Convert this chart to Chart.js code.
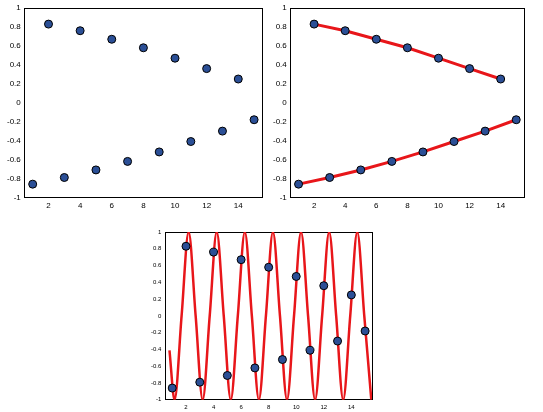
<!DOCTYPE html><html><head><script src="https://cdn.jsdelivr.net/npm/chart.js@4"></script>
<style>body{margin:0;background:#fff;width:543px;height:412px;position:relative}div{position:absolute}</style></head><body>
<div style="left:6px;top:0px;width:264px;height:212px"><canvas id="c1"></canvas></div>
<div style="left:272px;top:0px;width:260px;height:212px"><canvas id="c2"></canvas></div>
<div style="left:150px;top:224px;width:230px;height:188px"><canvas id="c3"></canvas></div>
<script>
const oddX=[1,3,5,7,9,11,13,15];
const oddY=[-0.86,-0.79,-0.71,-0.62,-0.52,-0.41,-0.30,-0.18];
const evenX=[2,4,6,8,10,12,14];
const evenY=[0.83,0.76,0.67,0.58,0.47,0.36,0.25];
// extrema / zero crossings of the fast sinusoid
const waveX=[0.8,1.17,1.68,2.19,2.70,3.21,3.72,4.23,4.74,5.25,5.76,6.27,6.78,7.29,7.80,8.31,8.82,9.33,9.84,10.35,10.86,11.37,11.88,12.39,12.90,13.41,13.92,14.43,14.94,15.45];
const waveY=[-0.41,-1,0,1,0,-1,0,1,0,-1,0,1,0,-1,0,1,0,-1,0,1,0,-1,0,1,0,-1,0,1,0,-1];
const xt=[2,4,6,8,10,12,14];
const pts=(xs,ys)=>xs.map((x,i)=>({x,y:ys[i]}));
const allPts=pts(oddX.concat(evenX),oddY.concat(evenY));
const ptStyle={type:'scatter',pointRadius:4,pointBackgroundColor:'#2b4f96',pointBorderColor:'#000',pointBorderWidth:1,showLine:false};
function scales(fs){return{
 x:{type:'linear',min:0.5,max:15.5,grid:{display:false,drawTicks:true,tickLength:3},border:{color:'#000'},
  afterBuildTicks:a=>{a.ticks=xt.map(v=>({value:v}))},ticks:{font:{size:fs,family:'Liberation Sans'},color:'#000',maxRotation:0,padding:1}},
 x2:{position:'top',type:'linear',min:0.5,max:15.5,grid:{display:false},border:{color:'#000'},ticks:{display:false}},
 y:{min:-1,max:1,grid:{display:false,tickLength:3},border:{color:'#000'},ticks:{stepSize:0.2,font:{size:fs,family:'Liberation Sans'},color:'#000',padding:1,callback:v=>{v=Math.round(v*10)/10;return v===0?'0':String(v)}}},
 y2:{position:'right',min:-1,max:1,grid:{display:false},border:{color:'#000'},ticks:{display:false}}
}}
const base={responsive:true,maintainAspectRatio:false,animation:false,plugins:{legend:{display:false},tooltip:{enabled:false}}};
new Chart(c1,{type:'scatter',data:{datasets:[Object.assign({data:allPts},ptStyle)]},options:Object.assign({scales:scales(8)},base)});
new Chart(c2,{type:'scatter',data:{datasets:[
 Object.assign({data:allPts},ptStyle),
 {data:pts(oddX,oddY),showLine:true,borderColor:'#e8161a',borderWidth:3,pointRadius:0},
 {data:pts(evenX,evenY),showLine:true,borderColor:'#e8161a',borderWidth:3,pointRadius:0}]},options:Object.assign({scales:scales(8)},base)});
new Chart(c3,{type:'scatter',data:{datasets:[
 Object.assign({data:allPts},ptStyle),
 {data:pts(waveX,waveY),showLine:true,borderColor:'#e8161a',borderWidth:2.5,pointRadius:0,cubicInterpolationMode:'monotone'}]},options:Object.assign({scales:scales(6)},base)});
</script></body></html>
